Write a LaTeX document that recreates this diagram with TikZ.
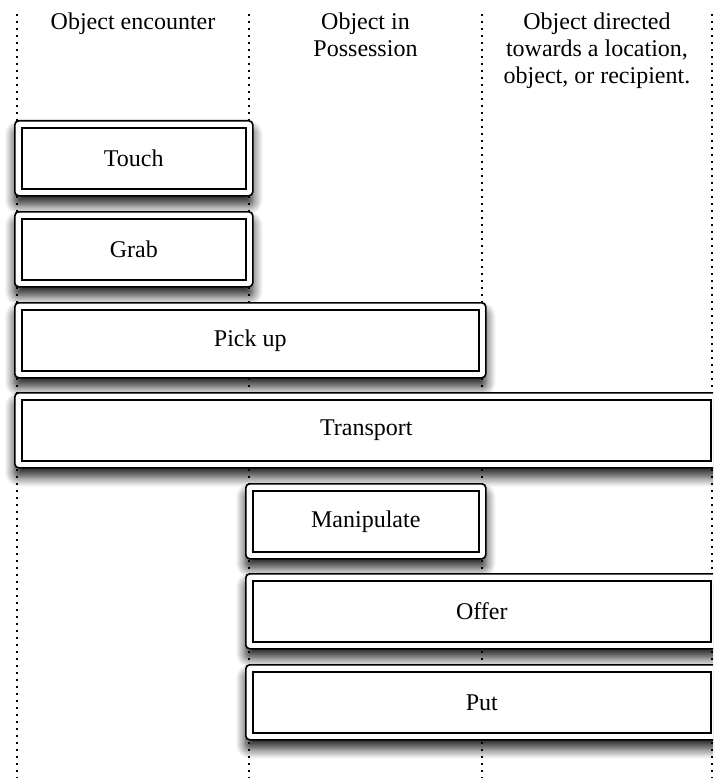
\documentclass[tikz,border=0pt]{standalone}
\usepackage{fontspec}
\setmainfont{Liberation Serif}
\usetikzlibrary{shadows.blur,positioning}
\tikzset{
  act/.style  ={rectangle, rounded corners=4pt, draw=black, line width=1.6pt, fill=white,
                minimum height=75pt, inner sep=0pt, anchor=north west,
                font=\fontsize{24}{27}\selectfont,
                blur shadow={shadow xshift=0pt, shadow yshift=-9pt,
                             shadow blur radius=10pt, shadow blur steps=10,
                             shadow opacity=90},
                path picture={\draw[line width=2.2pt, sharp corners]
                  ([shift={(7pt,7pt)}]path picture bounding box.south west) rectangle
                  ([shift={(-7pt,-7pt)}]path picture bounding box.north east);}},
  head/.style ={align=center, anchor=north, inner sep=0pt,
                font=\fontsize{24}{27}\selectfont},
  sep/.style  ={line width=1.5pt, dash pattern=on 2pt off 5pt},
}
\begin{document}
\begin{tikzpicture}[x=1pt,y=-1pt]
  \useasboundingbox (0,0) rectangle (713,778);
  \clip (0,0) rectangle (713,778);

  % column separators
  \foreach \x in {17,249,482,712}
    \draw[sep] (\x,14) -- (\x,778);

  % column headings
  \node[head] (hEnc) at (133,13)   {Object encounter};
  \node[head] (hPos) at (365.5,13) {Object in\\Possession};
  \node[head] (hDir) at (597,13)   {Object directed\\towards a location,\\object, or recipient.};

  % actions
  \node[act, minimum width=238] (touch) at (14,120) {Touch};
  \node[act, minimum width=238] (grab)  at (14,211) {Grab};
  \node[act, minimum width=471] (pick)  at (14,302) {Pick up};
  \node[act, minimum width=703] (trans) at (14,392) {Transport};
  \node[act, minimum width=240] (manip) at (245,483) {Manipulate};
  \node[act, minimum width=472] (offer) at (245,573) {Offer};
  \node[act, minimum width=472] (put)   at (245,664) {Put};
\end{tikzpicture}
\end{document}
